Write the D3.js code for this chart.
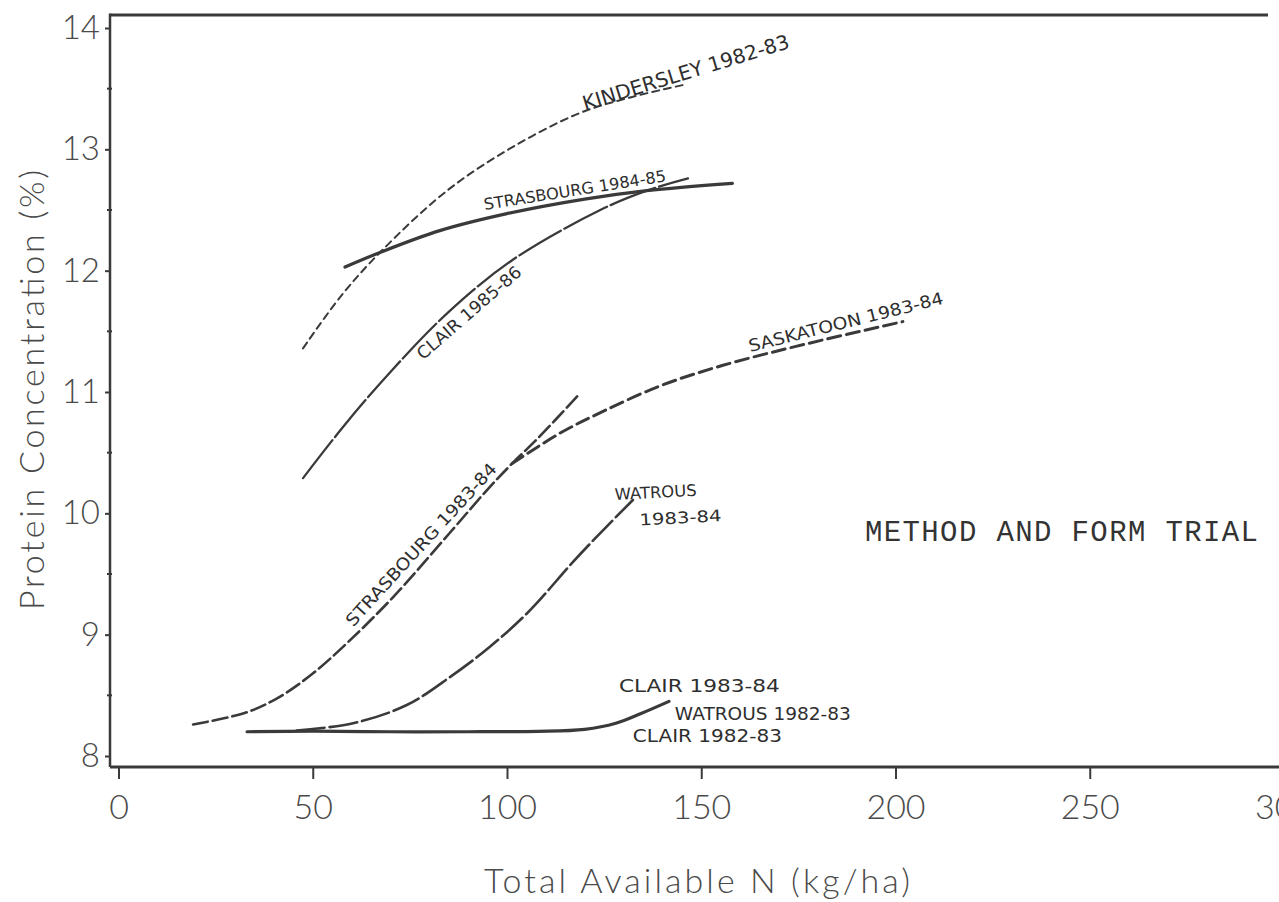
<!DOCTYPE html>
<html><head><meta charset="utf-8">
<script src="https://cdn.jsdelivr.net/npm/d3@7"></script>
<style>body{margin:0;background:#fff;} svg{display:block;}</style>
</head><body>
<svg id="c" width="1279" height="902"></svg>
<script>
// ---------- data ----------
const xTicks = [0, 50, 100, 150, 200, 250, 300];
const yTicks = [8, 9, 10, 11, 12, 13, 14];
const yMinorTicks = [8.5, 9.5, 10.5, 11.5, 12.5, 13.5];

const kindersley8283 = [[47.5,11.36],[57,11.78],[67.3,12.15],[84.6,12.66],[101.5,13.02],[118.8,13.30],[132,13.43],[145.3,13.53]];
const strasbourg8485 = [[58.3,12.03],[67.3,12.15],[82.7,12.33],[100,12.47],[120,12.59],[136,12.66],[158,12.72]];
const clair8586 = [[47.5,10.29],[58,10.72],[70.4,11.18],[85,11.66],[101.5,12.09],[124,12.50],[136,12.66],[146.6,12.76]];
const strasbourg8384 = [[19.2,8.26],[33,8.36],[41.6,8.49],[50,8.68],[58.8,8.93],[70.7,9.31],[85.3,9.84],[94.8,10.19],[101.3,10.41],[108,10.62],[118.8,10.99]];
const saskatoon8384 = [[101.3,10.41],[113.6,10.66],[124.7,10.84],[139.4,11.05],[155.6,11.22],[177.5,11.40],[201.9,11.58]];
const watrous8384 = [[45.9,8.21],[60.4,8.27],[74.2,8.42],[85.3,8.65],[95.6,8.90],[105.9,9.20],[117,9.60],[124.7,9.86],[132.4,10.11]];
const clair8283 = [[33.1,8.20],[50,8.205],[70,8.20],[90,8.20],[108,8.203],[120,8.22],[128,8.27],[134.5,8.35],[141.7,8.45]];

const seriesNames = ["KINDERSLEY 1982-83","STRASBOURG 1984-85","CLAIR 1985-86","SASKATOON 1983-84","STRASBOURG 1983-84","WATROUS 1983-84","CLAIR 1982-83"];

// curve labels: [text, x, y (data units at baseline start), angle, length, size]
const curveLabels = [
  ["KINDERSLEY 1982-83", 120.1, 13.32, -17, 215, 20],
  ["STRASBOURG 1984-85", 94.3, 12.50, -9, 184, 16],
  ["CLAIR 1985-86", 78.4, 11.26, -41, 132, 17],
  ["SASKATOON 1983-84", 162.6, 11.33, -14, 200, 17],
  ["STRASBOURG 1983-84", 60.4, 9.06, -47.5, 214, 17],
  ["WATROUS", 127.8, 10.11, -3, 82, 16],
  ["1983-84", 134.2, 9.90, -3, 82, 16],
  ["CLAIR 1983-84", 128.8, 8.53, 0, 161, 18],
  ["WATROUS 1982-83", 143.2, 8.30, 0, 176, 18],
  ["CLAIR 1982-83", 132.4, 8.115, 0, 149, 18]
];

// ---------- drawing ----------
const svg = d3.select("#c");
const x = d3.scaleLinear().domain([0, 300]).range([118.5, 1284]);
const y = d3.scaleLinear().domain([8, 14]).range([756, 28]);
const ink = "#3a3a3a";

const frameTop = 15, frameBottom = 767, frameLeft = 110;

// frame
svg.append("line").attr("x1", frameLeft).attr("x2", 1268).attr("y1", frameTop).attr("y2", frameTop)
  .attr("stroke", ink).attr("stroke-width", 3);
svg.append("line").attr("x1", frameLeft).attr("x2", frameLeft).attr("y1", frameTop - 1.5).attr("y2", frameBottom)
  .attr("stroke", ink).attr("stroke-width", 2.5);
svg.append("line").attr("x1", frameLeft).attr("x2", 1279).attr("y1", frameBottom).attr("y2", frameBottom)
  .attr("stroke", ink).attr("stroke-width", 3);

const tickFont = "'Lato','Noto Sans',sans-serif";

// x axis
const xAxis = svg.append("g").attr("transform", `translate(0,${frameBottom})`)
  .call(d3.axisBottom(x).tickValues(xTicks).tickSize(12).tickPadding(16).tickFormat(d3.format("d")));
xAxis.select(".domain").remove();
xAxis.selectAll(".tick line").attr("stroke", ink).attr("stroke-width", 2);
xAxis.selectAll(".tick text").attr("font-family", tickFont).attr("font-size", 34).attr("font-weight", 300).attr("fill", "#4a4a4a");

// y axis
const yAxis = svg.append("g").attr("transform", `translate(${frameLeft},0)`)
  .call(d3.axisLeft(y).tickValues(yTicks).tickSize(5).tickPadding(5).tickFormat(d3.format("d")));
yAxis.select(".domain").remove();
yAxis.selectAll(".tick line").attr("stroke", ink).attr("stroke-width", 2);
yAxis.selectAll(".tick text").attr("font-family", tickFont).attr("font-size", 33).attr("font-weight", 300).attr("fill", "#4a4a4a");
svg.append("g").selectAll("line").data(yMinorTicks).join("line")
  .attr("x1", frameLeft - 3).attr("x2", frameLeft + 2).attr("y1", d => y(d)).attr("y2", d => y(d))
  .attr("stroke", ink).attr("stroke-width", 2);

// axis titles
svg.append("text").attr("x", 697).attr("y", 893).attr("text-anchor", "middle")
  .attr("font-family", tickFont).attr("font-size", 34).attr("font-weight", 300).attr("fill", "#4a4a4a")
  .attr("textLength", 426).text("Total Available N (kg/ha)");
svg.append("text").attr("transform", "translate(44,390) rotate(-90)").attr("text-anchor", "middle")
  .attr("font-family", tickFont).attr("font-size", 34).attr("font-weight", 300).attr("fill", "#4a4a4a")
  .attr("textLength", 440).text("Protein Concentration (%)");

// trial title
svg.append("text").attr("x", 865).attr("y", 541)
  .attr("font-family", "'Liberation Mono','DejaVu Sans Mono',monospace").attr("font-size", 29)
  .attr("fill", "#333").attr("textLength", 393).text("METHOD AND FORM TRIAL");

// curves
const line = d3.line().x(d => x(d[0])).y(d => y(d[1])).curve(d3.curveCatmullRom.alpha(0.5));
const styles = [
  {data: kindersley8283, w: 2, dash: "7,5"},
  {data: strasbourg8485, w: 3.2, dash: null},
  {data: clair8586, w: 2.3, dash: "48,4"},
  {data: saskatoon8384, w: 3, dash: "13,6"},
  {data: strasbourg8384, w: 2.6, dash: "15,5"},
  {data: watrous8384, w: 2.6, dash: "28,5"},
  {data: clair8283, w: 3.2, dash: null}
];
svg.append("g").selectAll("path").data(styles).join("path")
  .attr("d", s => line(s.data)).attr("fill", "none").attr("stroke", ink)
  .attr("stroke-width", s => s.w).attr("stroke-dasharray", s => s.dash)
  .attr("stroke-linecap", "round").append("title").text((s, i) => seriesNames[i]);

// handwritten-style labels
svg.append("g").selectAll("text").data(curveLabels).join("text")
  .attr("transform", d => `translate(${x(d[1])},${y(d[2])}) rotate(${d[3]})`)
  .attr("font-family", "'DejaVu Sans',sans-serif").attr("font-size", d => d[5])
  .attr("fill", "#2e2e2e").attr("textLength", d => d[4]).attr("lengthAdjust", "spacingAndGlyphs")
  .text(d => d[0]);
</script>
</body></html>
